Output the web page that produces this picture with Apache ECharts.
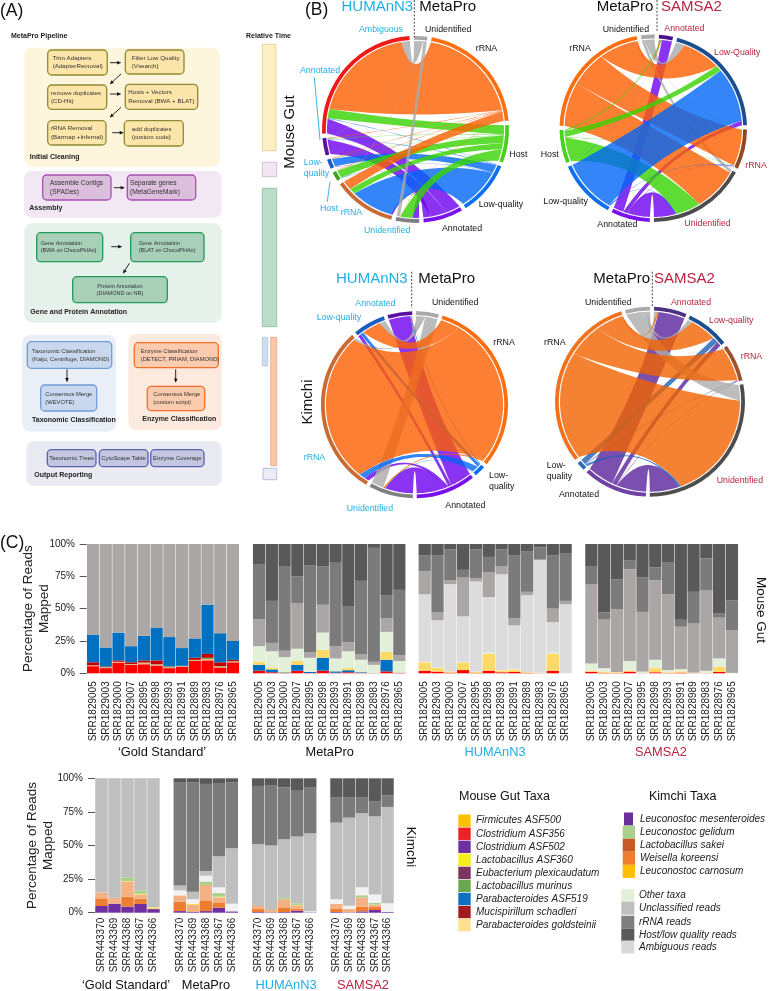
<!DOCTYPE html>
<html><head><meta charset="utf-8">
<style>html,body{margin:0;padding:0;background:#fff}#c{width:769px;height:991px}</style>
<script src="https://cdn.jsdelivr.net/npm/echarts@6/dist/echarts.min.js"></script>
</head><body><div id="c"></div>
<script>
// ---------- DATA: panel C sample names ----------
const mouseSamples = ['SRR1829005','SRR1829003','SRR1829000','SRR1829007','SRR1828995','SRR1828998','SRR1828993','SRR1828991','SRR1828989','SRR1828983','SRR1828976','SRR1828965'];
const kimchiSamples = ['SRR443370','SRR443369','SRR443368','SRR443367','SRR443366'];
const yTicks = ['0%','25%','50%','75%','100%'];

// Each row is one sample; numbers are the upper edge (%) of each stacked layer.
const goldMouseLayers = ['Clostridium ASF356','Parabacteroides goldsteinii','Lactobacillus murinus','Mucispirillum schadleri','Parabacteroides ASF519'];
const goldMouse = [[5.5,6,6.2,8.5,30],[4,4.5,4.8,5.3,20],[8,8.7,8.9,10,31.5],[6.5,7,7.2,8.5,21],[7,8,8.4,10,29],[6,6.7,7,10,35],[4,4.4,5.2,5.4,28],[5,5.4,5.6,5.8,19.5],[9.5,10.2,10.4,12,27],[10,11,12,15,53],[4.5,5.1,5.6,8.5,31],[8.5,9.1,9.4,10.4,25]];
const metaProMouse = [[2,6.5,9,21,42,84],[.8,3,4.5,17,23.5,56],[.2,.7,1,12.5,17.5,83],[2,6.5,9.5,19,54,75],[.2,1,1.1,12,16,83.5],[2,12,18,31.5,53,82.5],[.4,1.5,1.7,11.5,21,86],[.8,2.4,4,17,24,51.5],[.2,.8,.9,10.5,14.5,71.5],[.1,.2,.5,6.5,9,97],[1.5,10.5,16.5,32,42.5,60.5],[.3,.5,.6,9.5,14,64.5]];
const humannMouse = [[2,8.5,9,61,79,91],[1.3,4.3,4.6,41,47,91],[.5,1.3,1.4,69,72,96],[2.5,8.5,9,44,74,80],[.2,1.2,1.4,71,73.5,96],[2,15,16,59,78,90],[.8,2.2,2.5,76.5,83,96],[1,3,3.5,37,42.5,91],[.3,.9,1,60.5,63,94.5],[.1,.4,.5,87.5,88,97.5],[2,15,16,39.5,50,91],[0,.1,.2,53.5,56,92.5]];
const samsaMouse = [[1.2,2,7.5,69,83],[.3,1.3,4,41.5,47],[.2,.8,1,49.5,72.5],[1.3,2.2,9.5,80.5,87.5],[.1,.2,1.3,47.5,74],[.8,4,10.5,72,82],[.2,.8,2.5,61,85.5],[.5,1.5,3.3,36,41.5],[.1,.3,.5,38.5,63],[.1,.3,2,64,89],[1,5,11.5,43,46.5],[0,.1,.3,33.5,56.5]];
const goldKimchi = [[5,10.7,15,15,15],[6.7,6.7,11,11.2,11.2],[4.5,12,23,23.5,26.3],[6.5,10.4,13.4,14,16.6],[2.7,2.7,2.7,4,4]];
const metaProKimchi = [[1.2,8.2,12.9,12.9,12.9,16.6,20.3,96.8],[.5,.5,5.7,6.7,6.7,10,15.6,97],[1.2,9.2,20.6,20.6,23.3,27.5,31,95.8],[3.7,7.2,11.4,11.9,14.6,18.9,42,96.5],[1,1,1,1,1,6.7,48,97]];
const humannKimchi = [[.5,2.7,5,5,5,5,51,94.3],[.3,.4,2,2,2,2,50,94.5],[.5,4,10,10,11.4,11.4,54.6,93.3],[1.5,3,5.2,5.6,7,7,56.6,91.3],[.3,.3,.3,.3,.3,1,59,93.5]];
const samsaKimchi = [[.5,3.2,6.5,6.5,6.5,10,67,85.6],[.3,.3,2.7,2.7,2.7,5.2,70.7,86],[1,4.5,11.4,11.4,13,19,74,85.6],[2,4.2,5.7,6,7.2,13.6,71.7,83],[.5,.5,.5,.5,.5,7,78.7,87.3]];

// ---------- DATA: panel B chord diagrams (rows = left nodes, columns = right nodes) ----------
const rightNodesA = ['Unidentified','rRNA','Host','Low-quality','Annotated'];
const leftNodesA = ['Unidentified','rRNA','Host','Low-quality','Annotated','Ambiguous'];
const chordGutHumann = [[2.2,.2,7.5,.5,4],[.2,6,4,27,1],[0,.3,5,.3,0],[.1,.3,.2,5,.3],[.2,.3,.3,.3,9.5],[5.5,66,6,.3,9.5]];
const rightNodesB = ['Annotated','Low-quality','rRNA','Unidentified'];
const leftNodesB = ['Annotated','Low-quality','Host','rRNA','Unidentified'];
const chordGutSamsa = [[6.7,3,.3,14.5],[.1,36,.3,.6],[.7,4,.2,16],[1,25,24,29],[.3,6,.3,2]];
const rightNodesC = ['Unidentified','rRNA','Low-quality','Annotated'];
const leftNodesC = ['Unidentified','rRNA','Low-quality','Annotated'];
const chordKimchiHumann = [[8,1,.5,18],[1.5,98,4,3],[4,12,2,2],[.5,.3,.5,14]];
const rightNodesD = ['Annotated','Low-quality','rRNA','Unidentified'];
const leftNodesD = ['Annotated','Low-quality','rRNA','Unidentified'];
const chordKimchiSamsa = [[17,3,.3,19],[0,3.5,.4,1.5],[1,17,22,70],[2,3,.3,10]];

// ---------- Legends ----------
const mouseTaxa = ['Firmicutes ASF500','Clostridium ASF356','Clostridium ASF502','Lactobacillus ASF360','Eubacterium plexicaudatum','Lactobacillus murinus','Parabacteroides ASF519','Mucispirillum schadleri','Parabacteroides goldsteinii'];
const kimchiTaxa = ['Leuconostoc mesenteroides','Leuconostoc gelidum','Lactobacillus sakei','Weisella koreensi','Leuconostoc carnosum'];
const otherTaxa = ['Other taxa','Unclassified reads','rRNA reads','Host/low quality reads','Ambiguous reads'];

// ---------- STYLES ----------
const FF = '"Liberation Sans",Arial,sans-serif';
const BLUE = '#22aee5', RED = '#b8233f';
const C = {red:'#fe0000',tan:'#ffd966',green:'#6fa84c',dred:'#c00000',blue:'#0070c0',gold:'#abA7a7',other:'#e2efd9',ucl:'#aaa6a6',rrna:'#7b7b7b',host:'#595959',amb:'#dcdcdc',
  kp:'#7030a0',ko:'#ed7d31',kpe:'#f4b183',ky:'#ffd966',kg:'#a9d18e',kw:'#f2f2f2',ku:'#bfbfbf'};

const elements = [];
function txt(x,y,text,size,fill,o){o=o||{};
  elements.push({type:'text',x:x,y:y,rotation:o.rot||0,z:50,silent:true,style:{x:0,y:0,text:text,fill:fill||'#111',
    font:(o.italic?'italic ':'')+(o.bold?'bold ':'')+size+'px '+FF,align:o.align||'left',verticalAlign:'middle',lineHeight:o.lh||undefined}});
}
function rect(x1,y1,x2,y2,fill,stroke,r,lw){
  elements.push({type:'rect',z:5,silent:true,shape:{x:x1,y:y1,width:x2-x1,height:y2-y1,r:r||0},style:{fill:fill,stroke:stroke||null,lineWidth:lw||0}});
}
function line(x1,y1,x2,y2,stroke,lw,dash){
  elements.push({type:'line',z:40,silent:true,shape:{x1,y1,x2,y2},style:{stroke:stroke,lineWidth:lw||1,lineDash:dash||null}});
}
function arrow(x1,y1,x2,y2){
  line(x1,y1,x2,y2,'#111',.9);
  const a=Math.atan2(y2-y1,x2-x1),L=3.6,W=1.9;
  const bx=x2-L*Math.cos(a),by=y2-L*Math.sin(a);
  elements.push({type:'polygon',z:41,silent:true,shape:{points:[[x2,y2],[bx-W*Math.sin(a),by+W*Math.cos(a)],[bx+W*Math.sin(a),by-W*Math.cos(a)]]},style:{fill:'#111'}});
}
function box(x1,y1,x2,y2,fill,stroke,tx,lines,size,align){
  rect(x1,y1,x2,y2,fill,stroke,4,1.3);
  const lh=size*1.35, cy=(y1+y2)/2;
  lines.forEach((t,i)=>txt(tx,cy+(i-(lines.length-1)/2)*lh,t,size,'#333',{align:align||'left'}));
}

// ---------- PANEL A ----------
txt(0,11,'(A)',17.5,'#111');
txt(11,36,'MetaPro Pipeline',7,'#222',{bold:true});
txt(246,36,'Relative Time',7,'#222',{bold:true});
rect(24.3,47.7,220,166.7,'#fdf5dc',null,8);
const Y=['#fce5a8','#8d8a35'];
box(47.7,50,107.3,75,Y[0],Y[1],52.7,['Trim Adapters','(AdapterRemoval)'],6.2);
box(125.3,50,184,74,Y[0],Y[1],131.7,['Filter Low Quality','(Vsearch)'],6.2);
box(47.7,85,106.7,109.3,Y[0],Y[1],51,['remove duplicates','(CD-Hit)'],6.2);
box(125.3,84.3,197.7,109.3,Y[0],Y[1],128.3,['Hosts + Vectors','Removal (BWA + BLAT)'],6.2);
box(47.7,120.7,106,145,Y[0],Y[1],51,['rRNA Removal','(Barrnap +Infernal)'],6.2);
box(124.3,120.7,183.3,146,Y[0],Y[1],131.7,['add duplicates','(custom code)'],6.2);
arrow(110,62.7,120.7,62.7);arrow(121,74,110,84);arrow(110,94,120.7,94);arrow(121,107.3,110,117.3);arrow(112.3,132.7,123.3,132.7);
txt(29.7,157.3,'Initial Cleaning',7,'#222',{bold:true});

rect(24,171,221.7,217.7,'#f1e8f3',null,8);
const P=['#dbbfdd','#a64fb0'];
box(42.7,175,111,200,P[0],P[1],50,['Assemble Contigs','(SPADes)'],6.6);
box(127.3,175,195.7,200,P[0],P[1],130,['Separate genes','(MetaGeneMark)'],6.6);
arrow(114,187.7,124.3,187.7);
txt(29.3,207.7,'Assembly',7,'#222',{bold:true});

rect(24.3,223.3,221.7,322.7,'#e5f1ea',null,8);
const G=['#a8d0b8','#1f9a57'];
box(36.7,232.7,102.7,261.7,G[0],G[1],40.7,['Gene Annotation','(BWA on ChocoPhlAn)'],5.5);
box(130.7,232.7,204,261.7,G[0],G[1],138.7,['Gene Annotation','(BLAT on ChocoPhlAn)'],5.5);
box(72.7,276.7,167.3,302.7,G[0],G[1],120,['Protein Annotation','(DIAMOND on NR)'],5.5,'center');
arrow(111.3,246.7,121.7,246.7);arrow(129.3,263.3,123.3,273.3);
txt(30.3,312,'Gene and Protein Annotation',7,'#222',{bold:true});

rect(22.3,335,116,431.7,'#e9eef7',null,8);
const B=['#c9d8ec','#6f9bd6'];
box(27.3,341.7,111.7,368.3,B[0],B[1],32,['Taxonomic Classification','(Kaiju, Centrifuge, DIAMOND)'],5.8);
box(40.7,385,96.7,411,B[0],B[1],45.3,['Consensus Merge','(WEVOTE)'],5.8);
arrow(67,369.3,67,381.7);
txt(32,420,'Taxonomic Classification',7,'#222',{bold:true});

rect(128.3,334,221.7,430,'#fdeadf',null,8);
const O=['#fbcbaf','#f26f2a'];
box(134.3,342.7,218.3,367.7,O[0],O[1],140.7,['Enzyme Classification','(DETECT, PRIAM, DIAMOND)'],5.8);
box(147.3,386.3,204.7,410.7,O[0],O[1],153.3,['Consensus Merge','(custom script)'],5.8);
arrow(175.7,369.3,175.7,382.3);
txt(142.3,419,'Enzyme Classification',7,'#222',{bold:true});

rect(26.3,441,221.7,486,'#eaeaf3',null,8);
const L=['#c4c5e0','#5a5fae'];
box(47.3,449.7,96,466.7,L[0],L[1],71.6,['Taxonomic Trees'],5.9,'center');
box(99.3,449.7,148,466.7,L[0],L[1],123.6,['CytoScape Table'],5.9,'center');
box(150.7,449.7,204,466.7,L[0],L[1],177.3,['Enzyme Coverage'],5.9,'center');
txt(34.3,475.3,'Output Reporting',7,'#222',{bold:true});

rect(262.3,44.3,276,150.7,'#faf0c4','#d9c77a',0,.7);
rect(262.3,162.3,276.7,176.7,'#f2e6f2','#c8a8cc',0,.7);
rect(262.3,188.3,276.7,326.7,'#bcdcca','#7fb596',0,.7);
rect(262.3,337.3,267.7,366,'#cfdcef','#a8bfe0',0,.7);
rect(270.7,337.3,276.7,465.7,'#f9c9ad','#ee9a6e',0,.7);
rect(263,468.3,276.7,479.7,'#ececf6','#a4a6d4',0,.7);

// ---------- PANEL B labels ----------
const LS=8.8, BIG=15;
txt(305,10,'(B)',17.5,'#111');
// Mouse gut, HUMAnN3 | MetaPro
txt(341.5,7,'HUMAnN3',BIG,BLUE);txt(419.3,7,'MetaPro',BIG,'#111');line(414.3,0,414.3,37,'#333',.9,[2,1.6]);
txt(290,132,'Mouse Gut',15,'#111',{rot:Math.PI/2,align:'center'});
txt(359,29.3,'Ambiguous',LS,BLUE);txt(425,29.3,'Unidentified',LS,'#111');txt(475.7,48.7,'rRNA',LS,'#111');
txt(300,70.7,'Annotated',LS,BLUE);line(314.3,77.3,320,140,BLUE,.9);
txt(303.7,162.7,'Low-',LS,BLUE);txt(303.7,174,'quality',LS,BLUE);
line(330,181.7,327.3,201.7,BLUE,.9);txt(320,209,'Host',LS,BLUE);txt(340.7,212.7,'rRNA',LS,BLUE);
txt(364,230.7,'Unidentified',LS,BLUE);txt(442,228.3,'Annotated',LS,'#111');txt(478.7,205,'Low-quality',LS,'#111');txt(509.3,155,'Host',LS,'#111');
// Mouse gut, MetaPro | SAMSA2
txt(596.7,7,'MetaPro',BIG,'#111');txt(661,7,'SAMSA2',BIG,RED);line(657,0,657,32,'#333',.9,[2,1.6]);
txt(602.7,30,'Unidentified',LS,'#111');txt(664.3,29,'Annotated',LS,RED);txt(714,52.7,'Low-Quality',LS,RED);
txt(569.3,49,'rRNA',LS,'#111');txt(745.3,165.7,'rRNA',LS,RED);txt(540.7,154.3,'Host',LS,'#111');
txt(543.3,201.7,'Low-quality',LS,'#111');txt(597.3,225,'Annotated',LS,'#111');txt(684.3,224,'Unidentified',LS,RED);
// Kimchi, HUMAnN3 | MetaPro
txt(336,279,'HUMAnN3',BIG,BLUE);txt(418.3,279,'MetaPro',BIG,'#111');line(411.7,271.7,411.7,308.3,'#333',.9,[2,1.6]);
txt(308.3,402,'Kimchi',15,'#111',{rot:Math.PI/2,align:'center'});
txt(355.3,304,'Annotated',LS,BLUE);txt(316.7,317.7,'Low-quality',LS,BLUE);txt(432,302.3,'Unidentified',LS,'#111');txt(493.3,342.3,'rRNA',LS,'#111');
txt(303.7,457.3,'rRNA',LS,BLUE);txt(489,475.7,'Low-',LS,'#111');txt(489,486.7,'quality',LS,'#111');txt(445.3,505.7,'Annotated',LS,'#111');txt(346.7,509,'Unidentified',LS,BLUE);
// Kimchi, MetaPro | SAMSA2
txt(593.3,278.5,'MetaPro',BIG,'#111');txt(654,278.5,'SAMSA2',BIG,RED);line(652.3,271.7,652.3,307,'#333',.9,[2,1.6]);
txt(585,302.3,'Unidentified',LS,'#111');txt(671,302.3,'Annotated',LS,RED);txt(709,321,'Low-quality',LS,RED);txt(740.7,356.7,'rRNA',LS,RED);
txt(544,342.3,'rRNA',LS,'#111');txt(546.7,465.7,'Low-',LS,'#111');txt(546.7,477,'quality',LS,'#111');txt(559,495,'Annotated',LS,'#111');txt(716.7,480.3,'Unidentified',LS,RED);

// ---------- PANEL C labels + legend ----------
txt(0,543,'(C)',17.5,'#111');
[[162,'\u2018Gold Standard\u2019','#111'],[329.7,'MetaPro','#111'],[495,'HUMAnN3',BLUE],[661,'SAMSA2',RED]].forEach(a=>txt(a[0],752.7,a[1],12.8,a[2],{align:'center'}));
[[126,'\u2018Gold Standard\u2019','#111'],[206,'MetaPro','#111'],[286,'HUMAnN3',BLUE],[363,'SAMSA2',RED]].forEach(a=>txt(a[0],985,a[1],12.8,a[2],{align:'center'}));
txt(761,610,'Mouse Gut',13.5,'#111',{rot:-Math.PI/2,align:'center'});
txt(411,847,'Kimchi',13.5,'#111',{rot:-Math.PI/2,align:'center'});
txt(459,797,'Mouse Gut Taxa',12.5,'#111');
txt(649,797,'Kimchi Taxa',12.5,'#111');
const mouseCols=['#ffc000','#ed2024','#7030a0','#f5ee18','#7a3560','#6aa84f','#1070c0','#a01c20','#ffe08f'];
mouseTaxa.forEach((t,i)=>{const y=820.7+i*13.05;rect(458.3,y-6.2,470.7,y+6.2,mouseCols[i]);txt(476,y,t,10,'#222',{italic:true});});
const kimCols=['#6a2f9a','#a9d18e','#c55a28','#ed7d31','#ffc000'];
kimchiTaxa.forEach((t,i)=>{const y=819+i*13.1;rect(i?622.7:624,y-6.5,i?635:633,y+6.5,kimCols[i]);txt(640,y,t,10,'#222',{italic:true});});
const othCols=['#e2efd9','#bfbfbf','#7f7f7f','#595959','#d9d9d9'];
const othY=[895.7,908.3,922.3,935.3,947];
otherTaxa.forEach((t,i)=>{const y=othY[i];rect(621.3,y-6.5,634.3,y+6.5,othCols[i]);txt(639,y,t,10,'#222',{italic:true});});

// ---------- Stacked-bar builder ----------
const grids=[],xAxes=[],yAxes=[],series=[];
function addPanel(rows,cats,names,cols,x1,x2,y1,y2,first,margin,lblMargin,nameGap){
  const idx=grids.length;
  grids.push({left:x1,width:x2-x1,top:y1,height:y2-y1,containLabel:false});
  xAxes.push({type:'category',gridIndex:idx,data:cats,axisLine:{show:false},axisTick:{show:false},
    axisLabel:{rotate:90,interval:0,margin:margin,fontSize:10,color:'#222',fontFamily:FF}});
  yAxes.push({type:'value',gridIndex:idx,min:0,max:100,interval:25,show:first,splitLine:{show:false},axisLine:{show:false},
    axisTick:{show:true,length:7,lineStyle:{color:'#555',width:1}},
    axisLabel:{formatter:v=>yTicks[v/25],fontSize:10,color:'#222',margin:lblMargin||11,fontFamily:FF},
    name:'Percentage of Reads\nMapped',nameLocation:'middle',nameGap:nameGap||33,nameRotate:90,nameMoveOverlap:false,
    nameTextStyle:{fontSize:13.5,color:'#222',fontFamily:FF,lineHeight:16}});
  names.forEach((nm,k)=>{
    series.push({type:'bar',name:nm,xAxisIndex:idx,yAxisIndex:idx,stack:'s'+idx,barCategoryGap:'4%',silent:true,
      itemStyle:{color:cols[k]},
      data:rows.map(r=>{const top=k<r.length?r[k]:100,low=k?r[k-1]:0;return +(top-low).toFixed(2);})});
  });
}
const T=544,Bm=673.3,T2=778.3,B2=912.7;
addPanel(goldMouse,mouseSamples,goldMouseLayers.concat('Unclassified reads'),[C.red,'#f4b183',C.green,C.dred,C.blue,C.gold],86.7,239.3,T,Bm,true,8,11.7,34);
addPanel(metaProMouse,mouseSamples,['Clostridium ASF356','Parabacteroides ASF519','Parabacteroides goldsteinii','Other taxa','Unclassified reads','rRNA reads','Host/low quality reads'],[C.red,C.blue,C.tan,C.other,C.ucl,C.rrna,C.host],252.7,405.7,T,Bm,false,8);
addPanel(humannMouse,mouseSamples,['Clostridium ASF356','Parabacteroides goldsteinii','Other taxa','Ambiguous reads','Unclassified reads','rRNA reads','Host/low quality reads'],[C.red,C.tan,C.other,C.amb,C.ucl,C.rrna,C.host],418.3,572,T,Bm,false,8);
addPanel(samsaMouse,mouseSamples,['Clostridium ASF356','Parabacteroides goldsteinii','Other taxa','Unclassified reads','rRNA reads','Host/low quality reads'],[C.red,C.tan,C.other,C.ucl,C.rrna,C.host],585,738.3,T,Bm,false,8);
const kNames=['Leuconostoc mesenteroides','Lactobacillus sakei','Weisella koreensi','Leuconostoc carnosum','Leuconostoc gelidum'];
const kCols=[C.kp,C.ko,C.kpe,C.ky,C.kg];
addPanel(goldKimchi,kimchiSamples,kNames.concat('Unclassified reads'),kCols.concat(C.ku),95,160,T2,B2,true,5,12,39);
const kAll=kNames.concat(['Other taxa','Unclassified reads','rRNA reads','Host/low quality reads']);
const kAllC=kCols.concat([C.kw,C.ku,C.rrna,C.host]);
addPanel(metaProKimchi,kimchiSamples,kAll,kAllC,173.3,238.3,T2,B2,false,5);
addPanel(humannKimchi,kimchiSamples,kAll,kAllC,251.7,316.7,T2,B2,false,5);
addPanel(samsaKimchi,kimchiSamples,kAll,kAllC,330,394,T2,B2,false,5);

// ---------- Chord builder: angles derive from the link values; drawn with custom series ----------
function addChord(cx,cy,R,start,pad,rightN,leftN,matrix,rightRing,leftRing,ribbonColor,op,rank){
  const nL=leftN.length,nR=rightN.length;
  const rightSum=rightN.map((_,r)=>matrix.reduce((s,row)=>s+row[r],0));
  const leftSum=matrix.map(row=>row.reduce((s,v)=>s+v,0));
  const sum=rightSum.concat(leftSum), rings=[], cursor=[];
  const unit=(360-pad*(nL+nR))/sum.reduce((a,b)=>a+b,0);
  let acc=start;
  sum.forEach((v,i)=>{
    cursor[i]=acc;
    rings.push({a0:acc,a1:acc+v*unit,color:i<nR?rightRing[i]:leftRing[i-nR]});
    acc+=v*unit+pad;
  });
  const ribbons=[];
  for(let l=nL-1;l>=0;l--){
    for(let r=nR-1;r>=0;r--){
      const v=matrix[l][r];
      if(!(v>0)) continue;
      const w=v*unit, a0=cursor[r], b0=cursor[nR+l];
      cursor[r]+=w; cursor[nR+l]+=w;
      ribbons.push({a0:a0,a1:a0+w,b0:b0,b1:b0+w,value:v,color:ribbonColor(l,r),rank:rank?rank(l,r):0});
    }
  }
  const drawn=ribbons.map((x,i)=>[x,i]).sort((p,q)=>(p[0].rank-q[0].rank)||(p[1]-q[1])).map(p=>p[0]);
  const r0=R-5;
  const pt=(a,rad)=>{const t=a*Math.PI/180;return [cx+rad*Math.sin(t),cy-rad*Math.cos(t)];};
  const arc=(a,b,out)=>{const n=Math.max(2,Math.ceil((b-a)/1.5));for(let i=0;i<=n;i++)out.push(pt(a+(b-a)*i/n,r0));};
  const curve=(P,Q,out)=>{
    // quadratic edge whose control point lies at a quarter of (P + Q) from the centre
    const k=[cx+(P[0]-cx+Q[0]-cx)/4,cy+(P[1]-cy+Q[1]-cy)/4];
    for(let i=1;i<24;i++){const t=i/24,u=1-t;out.push([u*u*P[0]+2*u*t*k[0]+t*t*Q[0],u*u*P[1]+2*u*t*k[1]+t*t*Q[1]]);}
  };
  series.push({type:'custom',coordinateSystem:'none',silent:true,z:3,data:drawn.map(x=>x.value),
    renderItem:(p)=>{
      const x=drawn[p.dataIndex],pts=[];
      arc(x.a0,x.a1,pts);curve(pt(x.a1,r0),pt(x.b0,r0),pts);arc(x.b0,x.b1,pts);curve(pt(x.b1,r0),pt(x.a0,r0),pts);
      return {type:'polygon',shape:{points:pts},style:{fill:x.color,opacity:op}};
    }});
  series.push({type:'custom',coordinateSystem:'none',silent:true,z:4,data:sum,
    renderItem:(p)=>{
      const x=rings[p.dataIndex],d=Math.PI/180;
      return {type:'sector',shape:{cx:cx,cy:cy,r0:R-3.8,r:R,startAngle:(x.a0-90)*d,endAngle:(x.a1-90)*d,clockwise:true},style:{fill:x.color}};
    }});
}
const GR='#aaaaaa',OR='#fc5f00',GN='#37d300',BL='#0066f6',PU='#6d00ef';
const colA=[GR,OR,GN,BL,PU];
addChord(415.5,129.4,93.5,-1,2.7,rightNodesA,leftNodesA,chordGutHumann,
  ['#a8a8a8','#fb6f10','#45d316','#0f70ef','#7a10ee'],['#808080','#c86b34','#3aa51a','#1a5dc0','#5a10a0','#ee1a1a'],(l,r)=>colA[r],.8);
const colB=[PU,BL,GN,OR,GR], rankB=[0,4,3,2,1];
addChord(653.3,128.3,93.7,3.5,2.6,rightNodesB,leftNodesB,chordGutSamsa,
  ['#4a1090','#1b4e8e','#8f4a20','#4d4d4d'],['#7a10ee','#0f70ef','#45d316','#fb6f10','#a8a8a8'],(l,r)=>colB[l],.8,(l,r)=>rankB[l]);
const colC=[GR,OR,BL,PU], rankC=[1,3,2,0];
addChord(414.5,404.7,93.6,1,2.4,rightNodesC,leftNodesC,chordKimchiHumann,
  ['#a8a8a8','#fb6f10','#0f70ef','#7a10ee'],['#808080','#c86b34','#1a5dc0','#5a10a0'],(l,r)=>colC[r],.8,(l,r)=>rankC[r]);
const colD=['#59239c','#1d5fb5','#f26300','#acacac'], rankD=[0,1,3,2];
addChord(650,401.7,95,2.5,2.4,rightNodesD,leftNodesD,chordKimchiSamsa,
  ['#4d2f86','#1b4e8e','#a0522d','#4d4d4d'],['#6f42a3','#2f6db5','#f2711c','#aaaaaa'],(l,r)=>colD[l],.8,(l,r)=>rankD[l]);

const chart=echarts.init(document.getElementById('c'),null,{renderer:'canvas'});
chart.setOption({animation:false,backgroundColor:'#fff',textStyle:{fontFamily:FF},
  grid:grids,xAxis:xAxes,yAxis:yAxes,series:series,graphic:{elements:elements}});
</script></body></html>
